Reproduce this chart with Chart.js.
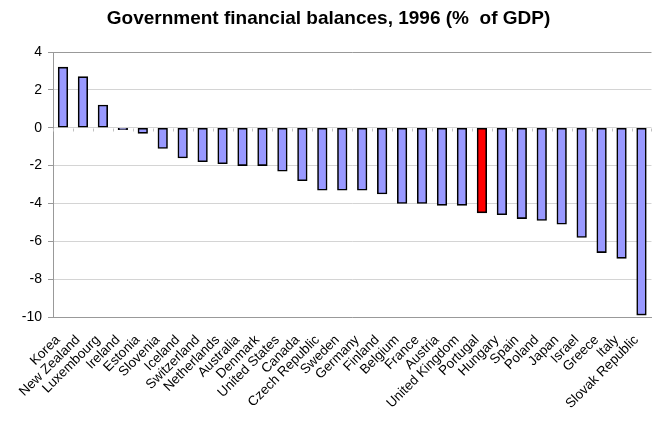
<!DOCTYPE html>
<html>
<head>
<meta charset="utf-8">
<script src="https://cdn.jsdelivr.net/npm/chart.js@4/dist/chart.umd.min.js"></script>
<style>
  html, body { margin: 0; padding: 0; background: #fff; overflow: hidden; }
  #wrap { width: 652px; height: 421px; overflow: hidden; }
  canvas { display: block; }
</style>
</head>
<body>
<div id="wrap"><canvas id="balances" width="660" height="421"></canvas></div>
<script>
  var countries = [
    'Korea', 'New Zealand', 'Luxembourg', 'Ireland', 'Estonia', 'Slovenia',
    'Iceland', 'Switzerland', 'Netherlands', 'Australia', 'Denmark',
    'United States', 'Canada', 'Czech Republic', 'Sweden', 'Germany',
    'Finland', 'Belgium', 'France', 'Austria', 'United Kingdom', 'Portugal',
    'Hungary', 'Spain', 'Poland', 'Japan', 'Israel', 'Greece', 'Italy',
    'Slovak Republic'
  ];
  var balances = [
    3.2, 2.7, 1.2, -0.1, -0.3, -1.1,
    -1.6, -1.8, -1.9, -2.0, -2.0,
    -2.3, -2.8, -3.3, -3.3, -3.3,
    -3.5, -4.0, -4.0, -4.1, -4.1, -4.5,
    -4.6, -4.8, -4.9, -5.1, -5.8, -6.6, -6.9,
    -9.9
  ];
  var highlighted = ['Portugal'];
  var yTicks = [4, 2, 0, -2, -4, -6, -8, -10];

  var FONT = 'Arial, "Liberation Sans", sans-serif';

  var barColors = countries.map(function (c) {
    return highlighted.indexOf(c) !== -1 ? '#ff0000' : '#9999ff';
  });

  // small category ticks sitting on the zero line
  var zeroTicks = {
    id: 'zeroTicks',
    beforeDatasetsDraw: function (chart) {
      var x = chart.scales.x, y = chart.scales.y;
      var ctx = chart.ctx;
      var y0 = Math.round(y.getPixelForValue(0)) + 0.5;
      ctx.save();
      ctx.strokeStyle = '#c0c0c0';
      ctx.lineWidth = 1;
      ctx.beginPath();
      for (var i = 0; i <= countries.length; i++) {
        var px = Math.round(x.getPixelForValue(i - 0.5)) + 0.5;
        ctx.moveTo(px, y0);
        ctx.lineTo(px, y0 + 3);
      }
      ctx.stroke();
      ctx.restore();
    }
  };

  new Chart(document.getElementById('balances'), {
    type: 'bar',
    data: {
      labels: countries,
      datasets: [{
        data: balances,
        backgroundColor: barColors,
        borderColor: '#000',
        borderWidth: 1.6,
        borderSkipped: false,
        barThickness: 9.6
      }]
    },
    options: {
      responsive: false,
      animation: false,
      layout: { padding: { right: 3, left: 0, top: 0, bottom: 0 } },
      plugins: {
        legend: { display: false },
        tooltip: { enabled: false },
        title: {
          display: true,
          text: 'Government financial balances, 1996 (%  of GDP)',
          color: '#000',
          font: { family: FONT, size: 19, weight: 'bold' },
          padding: { top: 7, bottom: 22.2 }
        }
      },
      scales: {
        x: {
          grid: { display: false },
          border: { display: true, color: '#999' },
          ticks: {
            color: '#000',
            autoSkip: false,
            maxRotation: 45,
            minRotation: 45,
            padding: 7,
            labelOffset: -5,
            font: { family: FONT, size: 13.5 }
          },
          afterFit: function (scale) { scale.height = 104; }
        },
        y: {
          min: -10,
          max: 4,
          afterBuildTicks: function (scale) {
            scale.ticks = yTicks.map(function (v) { return { value: v }; });
          },
          grid: {
            color: function (c) {
              return c.tick && c.tick.value === 4 ? '#999' : '#d4d4d4';
            },
            tickColor: '#999',
            tickLength: 5
          },
          border: { display: true, color: '#999' },
          ticks: {
            color: '#000',
            padding: 6,
            font: { family: FONT, size: 14 }
          },
          afterFit: function (scale) { scale.width = 53; }
        }
      }
    },
    plugins: [zeroTicks]
  });
</script>
</body>
</html>
